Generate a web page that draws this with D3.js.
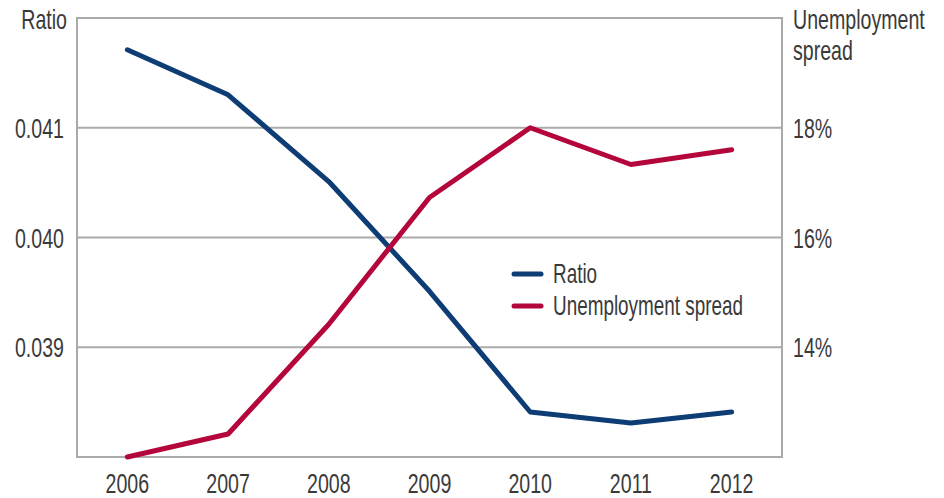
<!DOCTYPE html>
<html>
<head>
<meta charset="utf-8">
<script src="https://cdn.jsdelivr.net/npm/d3@7"></script>
<style>
  body { margin: 0; background: #fff; }
  text { font-family: "Liberation Sans", Arial, sans-serif; fill: #3a3a3a; }
</style>
</head>
<body>
<script>
// data
var years = ["2006", "2007", "2008", "2009", "2010", "2011", "2012"];
var ratio = [0.04171, 0.04130, 0.04051, 0.03951, 0.03841, 0.03831, 0.03841];
var spread = [12.0, 12.42, 14.42, 16.73, 18.0, 17.33, 17.6];
var ratioTicks = [0.039, 0.040, 0.041];
var spreadTicks = [14, 16, 18];

var width = 944, height = 498;
var pL = 77, pR = 782, pT = 18, pB = 457;
var squeeze = 0.70; // condensed look for the text

var svg = d3.select("body").append("svg")
  .attr("width", width)
  .attr("height", height);

var x = d3.scalePoint().domain(years).range([pL, pR]).padding(0.5);
var yL = d3.scaleLinear().domain([0.038, 0.042]).range([pB, pT]);
var yR = d3.scaleLinear().domain([12, 20]).range([pB, pT]);

// place a text with a horizontal squeeze
function label(sel, tx, ty) {
  return sel.attr("transform", function(d, i){
    return "translate(" + tx(d, i) + "," + ty(d, i) + ") scale(" + squeeze + ",1)";
  });
}

// gridlines
svg.selectAll("line.grid").data(ratioTicks).enter().append("line")
  .attr("class", "grid")
  .attr("x1", pL).attr("x2", pR)
  .attr("y1", function(d){ return yL(d); })
  .attr("y2", function(d){ return yL(d); })
  .attr("stroke", "#aaa").attr("stroke-width", 2);

// frame
svg.append("rect")
  .attr("x", pL).attr("y", pT)
  .attr("width", pR - pL).attr("height", pB - pT)
  .attr("fill", "none").attr("stroke", "#aaa").attr("stroke-width", 2);

// left tick labels
label(svg.selectAll("text.yl").data(ratioTicks).enter().append("text")
  .attr("class", "yl")
  .attr("text-anchor", "end")
  .style("font-size", "28px")
  .text(function(d){ return d3.format(".3f")(d); }),
  function(){ return 64; }, function(d){ return yL(d) + 10; });

// right tick labels
label(svg.selectAll("text.yr").data(spreadTicks).enter().append("text")
  .attr("class", "yr")
  .style("font-size", "28px")
  .text(function(d){ return d + "%"; }),
  function(){ return 793; }, function(d){ return yR(d) + 10; });

// x labels
label(svg.selectAll("text.xl").data(years).enter().append("text")
  .attr("class", "xl")
  .attr("text-anchor", "middle")
  .style("font-size", "28px")
  .text(function(d){ return d; }),
  function(d){ return x(d); }, function(){ return 493; });

// axis titles
var titles = [
  {t: "Ratio", x: 67, y: 29, a: "end"},
  {t: "Unemployment", x: 793, y: 29, a: "start"},
  {t: "spread", x: 793, y: 60, a: "start"}
];
label(svg.selectAll("text.tt").data(titles).enter().append("text")
  .attr("class", "tt")
  .attr("text-anchor", function(d){ return d.a; })
  .style("font-size", "28px")
  .text(function(d){ return d.t; }),
  function(d){ return d.x; }, function(d){ return d.y; });

// lines
var lineL = d3.line().x(function(d, i){ return x(years[i]); }).y(function(d){ return yL(d); });
var lineR = d3.line().x(function(d, i){ return x(years[i]); }).y(function(d){ return yR(d); });

svg.append("path").datum(ratio)
  .attr("d", lineL).attr("fill", "none")
  .attr("stroke", "#0d3d74").attr("stroke-width", 5)
  .attr("stroke-linecap", "round").attr("stroke-linejoin", "round");
svg.append("path").datum(spread)
  .attr("d", lineR).attr("fill", "none")
  .attr("stroke", "#b4063a").attr("stroke-width", 5)
  .attr("stroke-linecap", "round").attr("stroke-linejoin", "round");

// legend
var legend = [{name: "Ratio", color: "#0d3d74"}, {name: "Unemployment spread", color: "#b4063a"}];
var lg = svg.selectAll("g.lg").data(legend).enter().append("g")
  .attr("class", "lg")
  .attr("transform", function(d, i){ return "translate(514," + (274 + i * 32) + ")"; });
lg.append("line").attr("x1", 0).attr("x2", 27)
  .attr("stroke", function(d){ return d.color; })
  .attr("stroke-width", 5).attr("stroke-linecap", "round");
label(lg.append("text")
  .style("font-size", "27px")
  .text(function(d){ return d.name; }),
  function(){ return 39; }, function(){ return 9; });
</script>
</body>
</html>
